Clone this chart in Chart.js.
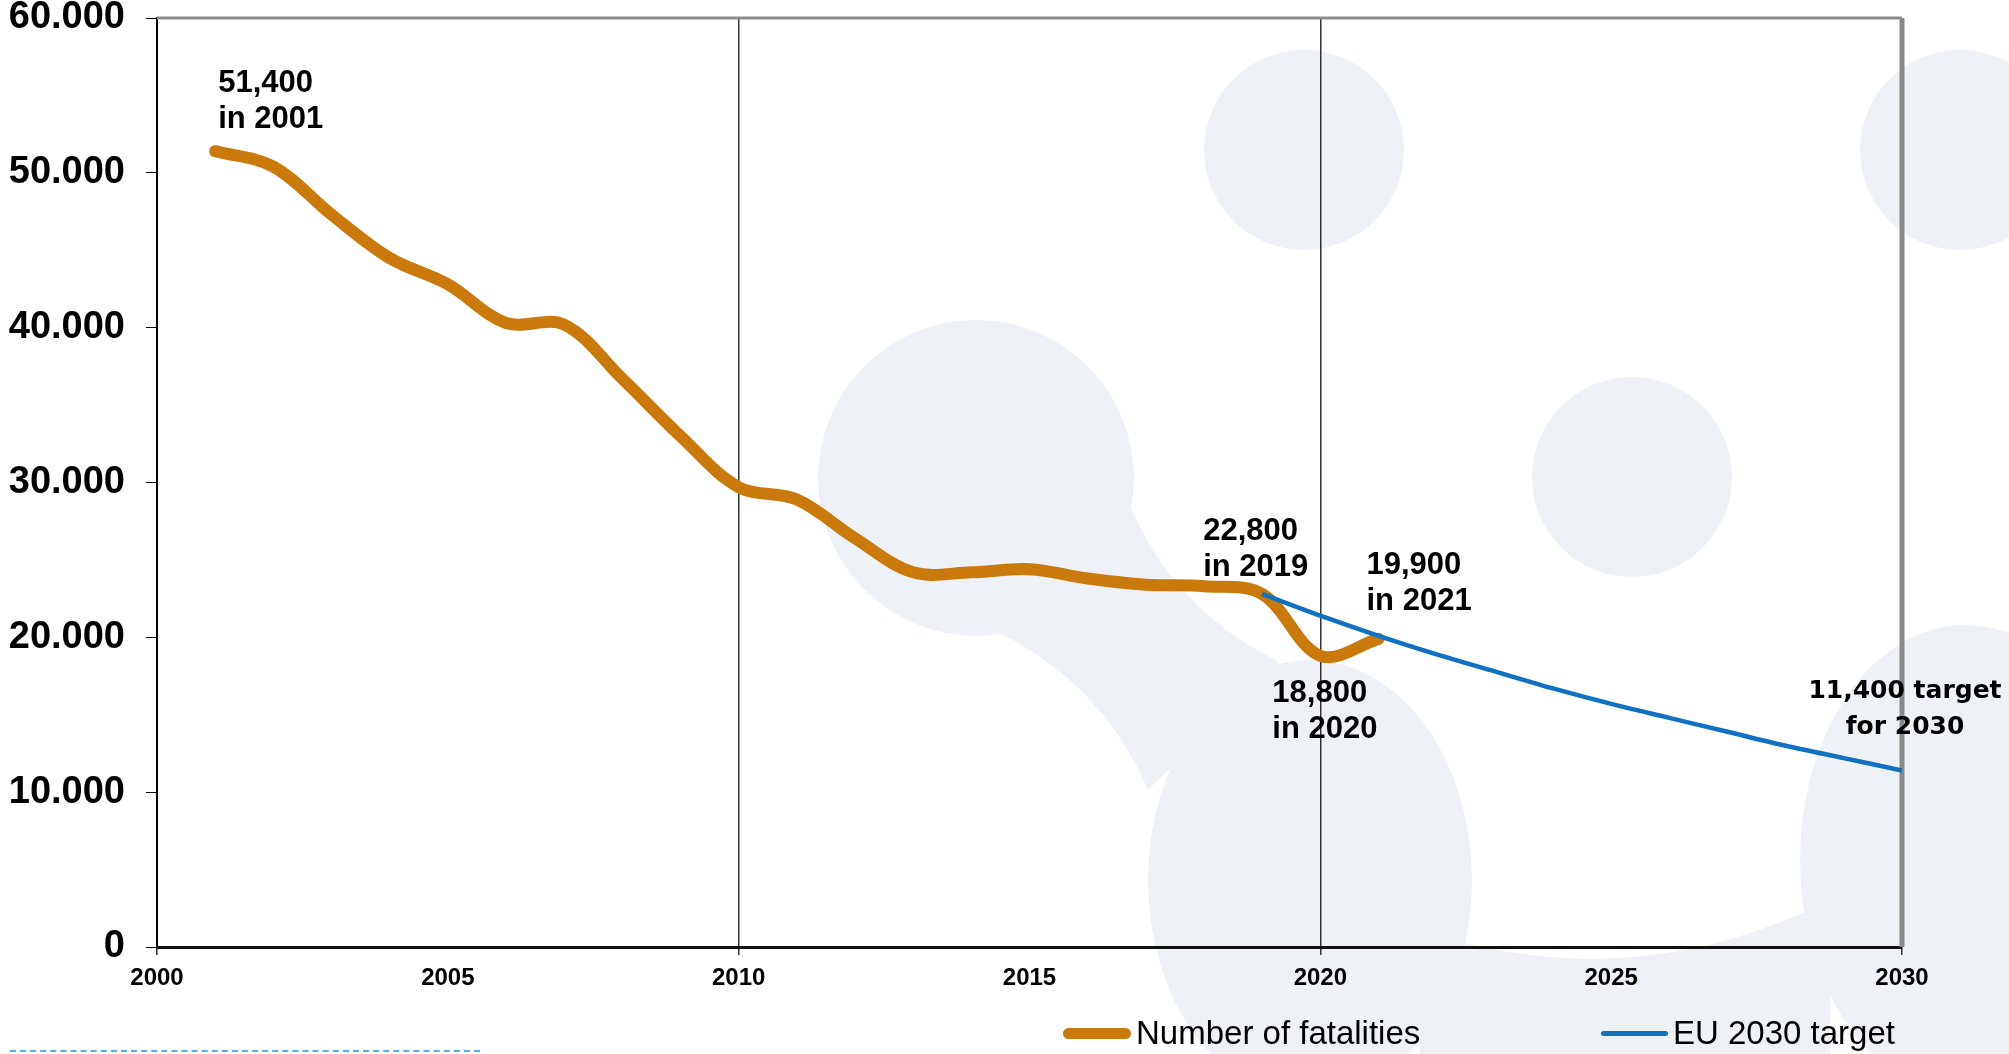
<!DOCTYPE html>
<html>
<head>
<meta charset="utf-8">
<script src="https://cdn.jsdelivr.net/npm/chart.js@4.4.1/dist/chart.umd.min.js"></script>
<style>
  html, body { margin: 0; padding: 0; background: #fff; }
  #wrap { position: relative; width: 2009px; height: 1054px; overflow: hidden; font-family: 'Liberation Sans', Arial, sans-serif; }
  #bg, #chart { position: absolute; left: 0; top: 0; }
  .leg { position: absolute; top: 1013px; height: 40px; display: flex; align-items: center; font-size: 33px; color: #000; white-space: nowrap; }
  .sw { display: inline-block; margin-right: 5px; }
  #dash { position: absolute; left: 10px; top: 1050px; width: 470px; border-top: 2px dashed #55aee6; }
</style>
</head>
<body>
<div id="wrap">
  <!-- decorative backdrop -->
  <svg id="bg" width="2009" height="1054">
    <g fill="#eef2f6">
      <path d="M1001 634 Q1103 685 1148 790 L1280 662 Q1177 613 1131 508 Z"/>
      <path d="M1420 930 Q1630 1000 1830 900 L1830 1054 L1420 1054 Z"/>
      <circle cx="1304" cy="150" r="100"/>
      <circle cx="976" cy="478" r="158"/>
      <circle cx="1632" cy="477" r="100"/>
      <circle cx="1960" cy="150" r="100"/>
      <ellipse cx="1310" cy="880" rx="162" ry="220"/>
      <ellipse cx="1965" cy="860" rx="165" ry="235"/>
    </g>
  </svg>
  <canvas id="chart" width="2009" height="1054"></canvas>
  <div class="leg" style="left:1063px"><span class="sw" style="width:68px;height:11px;border-radius:6px;background:#ca790c"></span>Number of fatalities</div>
  <div class="leg" style="left:1601px"><span class="sw" style="width:67px;height:5px;border-radius:3px;background:#1070c2"></span>EU 2030 target</div>
  <div id="dash"></div>
</div>
<script>
  // road fatalities per year
  const years = [2001, 2002, 2003, 2004, 2005, 2006, 2007, 2008, 2009, 2010, 2011,
    2012, 2013, 2014, 2015, 2016, 2017, 2018, 2019, 2020, 2021];
  const fatalities = [51400, 50400, 47300, 44500, 42800, 40300, 40200, 36700, 33000, 29700, 28900,
    26400, 24200, 24200, 24400, 23800, 23400, 23300, 22800, 18800, 19900];

  // target path 2019 -> 2030
  const targetYears = [2019, 2020, 2021, 2022, 2023, 2024, 2025, 2026, 2027, 2028, 2029, 2030];
  const targetValues = [22800, 21400, 20100, 18900, 17800, 16700, 15700, 14800, 13900, 13000, 12200, 11400];

  const yTicks = [0, 10000, 20000, 30000, 40000, 50000, 60000];
  const xTicks = [2000, 2005, 2010, 2015, 2020, 2025, 2030];

  const noteYears = [2001, 2019, 2020, 2021, 2030];
  const noteValues = [51400, 22800, 18800, 19900, 11400];
  const noteTexts = [
    ['51,400', 'in 2001'],
    ['22,800', 'in 2019'],
    ['18,800', 'in 2020'],
    ['19,900', 'in 2021'],
    ['11,400 target', 'for 2030']
  ];

  const ORANGE = '#ca790c';
  const BLUE = '#1070c2';

  function dotted(v) {
    return String(v).replace(/\B(?=(\d{3})+(?!\d))/g, '.');
  }

  // where each note sits relative to its point
  const noteStyle = [
    { dx: 3, dy: -68, align: 'left', font: 'bold 31px "Liberation Sans", Arial' },
    { dx: -59, dy: -63, align: 'left', font: 'bold 31px "Liberation Sans", Arial' },
    { dx: -48, dy: 38, align: 'left', font: 'bold 31px "Liberation Sans", Arial' },
    { dx: -12, dy: -73, align: 'left', font: 'bold 31px "Liberation Sans", Arial' },
    { dx: 3, dy: -79, align: 'center', font: 'bold 25px "DejaVu Sans", sans-serif' }
  ];

  const notesPlugin = {
    id: 'notes',
    afterDraw(chart) {
      const { ctx, scales: { x, y } } = chart;
      ctx.save();
      ctx.fillStyle = '#000';
      ctx.textBaseline = 'middle';
      noteTexts.forEach((lines, i) => {
        const s = noteStyle[i];
        const px = x.getPixelForValue(noteYears[i]);
        const py = y.getPixelForValue(noteValues[i]);
        ctx.font = s.font;
        ctx.textAlign = s.align;
        lines.forEach((t, j) => ctx.fillText(t, px + s.dx, py + s.dy + j * 36));
      });
      ctx.restore();
    }
  };

  // grey top and right frame of the plot
  const framePlugin = {
    id: 'frame',
    beforeDatasetsDraw(chart) {
      const { ctx, chartArea: a } = chart;
      ctx.save();
      ctx.strokeStyle = '#8a8a8a';
      ctx.lineWidth = 3;
      ctx.beginPath();
      ctx.moveTo(a.left, a.top);
      ctx.lineTo(a.right, a.top);
      ctx.stroke();
      ctx.lineWidth = 5;
      ctx.beginPath();
      ctx.moveTo(a.right, a.top);
      ctx.lineTo(a.right, a.bottom);
      ctx.stroke();
      ctx.restore();
    }
  };

  new Chart(document.getElementById('chart'), {
    type: 'line',
    data: {
      datasets: [
        {
          label: 'Number of fatalities',
          data: years.map((yr, i) => ({ x: yr, y: fatalities[i] })),
          borderColor: ORANGE,
          borderWidth: 12,
          borderCapStyle: 'round',
          borderJoinStyle: 'round',
          pointRadius: 0,
          tension: 0.35,
          order: 2
        },
        {
          label: 'EU 2030 target',
          data: targetYears.map((yr, i) => ({ x: yr, y: targetValues[i] })),
          borderColor: BLUE,
          borderWidth: 4.5,
          pointRadius: 0,
          tension: 0.3,
          order: 1
        }
      ]
    },
    options: {
      responsive: false,
      devicePixelRatio: 1,
      animation: false,
      layout: { padding: { top: 18, right: 107, left: 0, bottom: 0 } },
      plugins: { legend: { display: false }, tooltip: { enabled: false } },
      scales: {
        x: {
          type: 'linear',
          min: 2000,
          max: 2030,
          afterBuildTicks: s => { s.ticks = xTicks.map(v => ({ value: v })); },
          afterFit: s => { s.height = 107; s.paddingLeft = 0; s.paddingRight = 0; },
          border: { color: '#111', width: 3 },
          grid: {
            color: c => (c.tick && c.tick.value % 10 === 0) ? '#333' : 'transparent',
            lineWidth: 1.5,
            tickLength: 8
          },
          ticks: {
            color: '#000',
            padding: 9,
            maxRotation: 0,
            font: { family: '"Liberation Sans", Arial', size: 24, weight: 'bold' },
            callback: v => String(v)
          }
        },
        y: {
          min: 0,
          max: 60000,
          afterBuildTicks: s => { s.ticks = yTicks.map(v => ({ value: v })); },
          afterFit: s => { s.width = 157; s.paddingTop = 0; s.paddingBottom = 0; },
          border: { color: '#000', width: 2 },
          grid: { drawOnChartArea: false, color: '#000', tickLength: 11 },
          ticks: {
            color: '#000',
            padding: 21,
            font: { family: '"Liberation Sans", Arial', size: 38, weight: 'bold' },
            callback: v => dotted(v)
          }
        }
      }
    },
    plugins: [notesPlugin, framePlugin]
  });
</script>
</body>
</html>
